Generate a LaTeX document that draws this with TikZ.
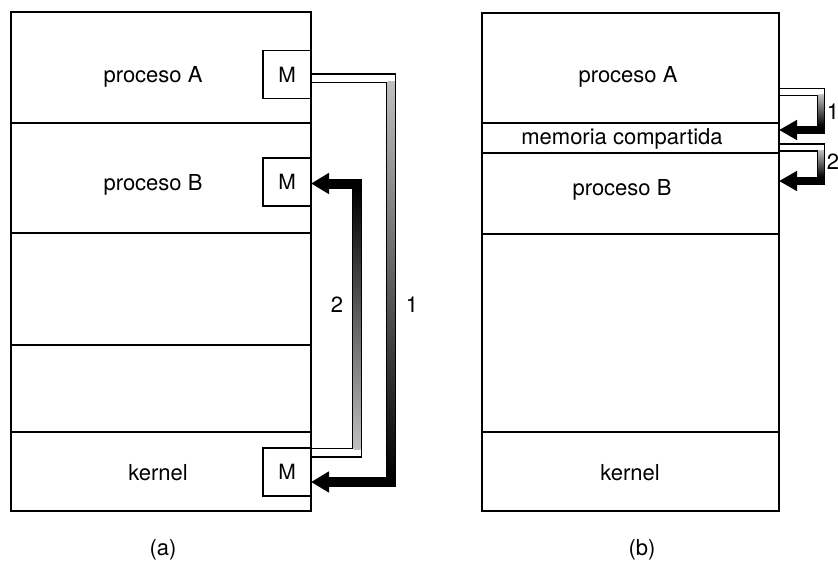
\documentclass[tikz,border=0pt]{standalone}
\usepackage{fontspec}
\setmainfont{TeX Gyre Heros}
\usetikzlibrary{arrows.meta,calc}
\begin{document}
\begin{tikzpicture}[x=1pt,y=-1pt,
  rowbox/.style={draw, line width=1.3pt, inner sep=0pt, outer sep=0pt, anchor=north west},
  mbox/.style={draw, line width=1.5pt, minimum width=48pt, minimum height=48pt, inner sep=0pt, outer sep=0pt, anchor=east, font=\fontsize{21}{25}\selectfont},
  lbl/.style={font=\fontsize{22}{26}\selectfont, inner sep=0pt},
  bandA/.style={line width=10pt, line join=miter, -{Triangle[width=20pt,length=18pt]}},
  bandB/.style={line width=8.5pt, line join=miter, -{Triangle[width=19pt,length=18pt]}},
]
\useasboundingbox (0,0) rectangle (838,563);

% ---------- panel (a)
\node[rowbox, minimum width=300pt, minimum height=111pt] (aA) at (11,12) {};
\node[rowbox, minimum width=300pt, minimum height=110pt] (aB) at (11,123) {};
\node[rowbox, minimum width=300pt, minimum height=112pt] (aC) at (11,233) {};
\node[rowbox, minimum width=300pt, minimum height=87pt] (aD) at (11,345) {};
\node[rowbox, minimum width=300pt, minimum height=79pt] (aK) at (11,432) {};

\node[lbl] (tA) at (153,77) {proceso A};
\node[lbl] (tB) at (153,185) {proceso B};
\node[lbl] (tK) at (158,473) {kernel};

\node[mbox] (mA) at (311,74.5) {M};
\node[mbox] (mB) at (311,182) {M};
\node[mbox] (mK) at (311,472) {M};

% arrow 1 (a)
\coordinate (a1s) at ($(mA.east)+(0,3.5)$);
\coordinate (a1e) at ($(mK.east)+(0,10)$);
\coordinate (a1x) at (391,0);
\draw[bandA] (a1s) -| (a1x |- a1e) -- (a1e);
\draw[line width=7pt, white, line join=miter] ($(a1s)+(1,0)$) -| ($(a1x |- a1s)+(0,10)$);
\shade[top color=black!25, bottom color=black] ($(a1x |- a1s)+(-3.5,3.5)$) rectangle ($(a1x |- a1e)+(3.5,-5)$);

% arrow 2 (a)
\coordinate (a2s) at ($(mK.east)+(0,-19.5)$);
\coordinate (a2e) at ($(mB.east)+(0,1.5)$);
\coordinate (a2x) at (357,0);
\draw[bandA] (a2s) -| (a2x |- a2e) -- (a2e);
\draw[line width=7pt, white, line join=miter] ($(a2s)+(1,0)$) -| ($(a2x |- a2s)+(0,-10)$);
\shade[top color=black, bottom color=black!25] ($(a2x |- a2e)+(-3.5,5)$) rectangle ($(a2x |- a2s)+(3.5,-3.5)$);

\node[lbl] (n2a) at (337,305) {2};
\node[lbl] (n1a) at (412,305) {1};
\node[lbl] (capa) at (163,550) {(a)};

% ---------- panel (b)
\node[rowbox, minimum width=297pt, minimum height=110pt] (bA) at (482,13) {};
\node[rowbox, minimum width=297pt, minimum height=30pt] (bM) at (482,123) {};
\node[rowbox, minimum width=297pt, minimum height=81pt] (bB) at (482,153) {};
\node[rowbox, minimum width=297pt, minimum height=198pt] (bC) at (482,234) {};
\node[rowbox, minimum width=297pt, minimum height=79pt] (bK) at (482,432) {};

\node[lbl] (ubA) at (628,77) {proceso A};
\node[lbl] (ubM) at (622,139) {memoria compartida};
\node[lbl] (ubB) at (622,190) {proceso B};
\node[lbl] (ubK) at (630,473) {kernel};

% arrow 1 (b)
\coordinate (b1s) at ($(bA.south east)+(0,-31)$);
\coordinate (b1e) at ($(bM.north east)+(0,7)$);
\coordinate (bx) at (821,0);
\draw[bandB] (b1s) -| (bx |- b1e) -- (b1e);
\draw[line width=5.5pt, white, line join=miter] ($(b1s)+(1,0)$) -| ($(bx |- b1s)+(0,8)$);
\shade[top color=black!25, bottom color=black] ($(bx |- b1s)+(-2.75,2.75)$) rectangle ($(bx |- b1e)+(2.75,-4.25)$);

% arrow 2 (b)
\coordinate (b2s) at ($(bM.south east)+(0,-5.5)$);
\coordinate (b2e) at ($(bB.north east)+(0,28)$);
\draw[bandB] (b2s) -| (bx |- b2e) -- (b2e);
\draw[line width=5.5pt, white, line join=miter] ($(b2s)+(1,0)$) -| ($(bx |- b2s)+(0,8)$);
\shade[top color=black!25, bottom color=black] ($(bx |- b2s)+(-2.75,2.75)$) rectangle ($(bx |- b2e)+(2.75,-4.25)$);

\node[lbl] (n1b) at (833,112) {1};
\node[lbl] (n2b) at (833,162) {2};
\node[lbl] (capb) at (642,550) {(b)};
\end{tikzpicture}
\end{document}
